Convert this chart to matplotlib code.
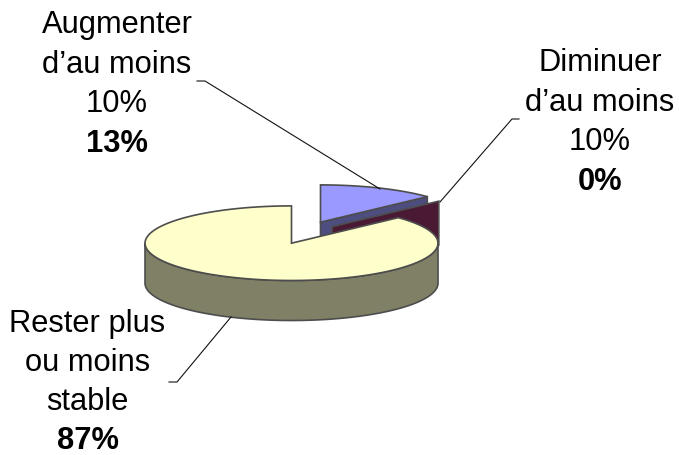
import numpy as np
import matplotlib
matplotlib.use('Agg')
import matplotlib.pyplot as plt
from matplotlib.patches import Polygon

labels = ["Augmenter\nd\u2019au moins\n10%", "Diminuer\nd\u2019au moins\n10%", "Rester plus\nou moins\nstable"]
values = [13, 0, 87]

cx, cy = 291.5, 244.2
rx, ry = 146.5, 37.3
depth  = 40
off_up   = (29, -21)
off_zero = (40.5, -16.5)

edge = '#4d4d4d'

plt.rcParams['font.family'] = ['Liberation Sans', 'DejaVu Sans']

fig = plt.figure(figsize=(6.79, 4.56), dpi=100)
ax = fig.add_axes([0, 0, 1, 1])
ax.set_xlim(0, 679)
ax.set_ylim(456, 0)
ax.axis('off')

def rim(a0, a1, dx=0, dy=0, n=120):
    # angles in percent of the pie, clockwise from the top
    th = np.pi/2 - 2*np.pi*np.linspace(a0, a1, n)/100
    return np.c_[cx+dx+rx*np.cos(th), cy+dy-ry*np.sin(th)]

def poly(pts, fc, z):
    ax.add_patch(Polygon(pts, closed=True, fc=fc, ec=edge, lw=1.2, joinstyle='miter', zorder=z))

a = values[0]

# raised slice: cut face first, then its top
apex_b = np.array([cx+off_up[0], cy+off_up[1]])
end_b  = rim(a, a, *off_up, n=1)[0]
poly([apex_b, end_b, end_b+[0, depth], apex_b+[0, depth]], '#4D4D80', 1)
poly(np.vstack([apex_b, rim(0, a, *off_up)]), '#9999FF', 2)

# empty slice only shows its cut face
apex_m = np.array([cx+off_zero[0], cy+off_zero[1]])
end_m  = rim(a, a+values[1], *off_zero, n=1)[0]
poly([apex_m, end_m, end_m+[0, depth+4], apex_m+[0, depth+4]], '#4A1A35', 3)

# large slice: outer wall of the front half, then the top
low = rim(25, 75)
wall = np.vstack([low, low[::-1]+[0, depth]])
poly(wall, '#808066', 4)
poly(np.vstack([[cx, cy], rim(a, 100)]), '#FFFFCC', 5)

# text
fs = 22.2
tx = [117, 600, 87.5]
ty = [33, 71, 332]
sp = [39.7, 39.7, 39.0]
for x, y, s, lab, v in zip(tx, ty, sp, labels, values):
    lines = lab.split('\n')
    for i, l in enumerate(lines):
        ax.text(x, y + i*s, l, ha='center', va='baseline', fontsize=fs, color='black')
    ax.text(x, y + len(lines)*s, f"{v}%", ha='center', va='baseline', fontsize=fs, fontweight='bold', color='black')

# leader lines
ax.plot([197, 205, 380], [82, 82, 190], color='#111111', lw=0.8, zorder=6)
ax.plot([519, 512, 440], [120, 120, 203], color='#111111', lw=0.8, zorder=6)
ax.plot([169, 177, 231], [383, 383, 318], color='#111111', lw=0.8, zorder=6)

fig.savefig('out.png', dpi=100)
